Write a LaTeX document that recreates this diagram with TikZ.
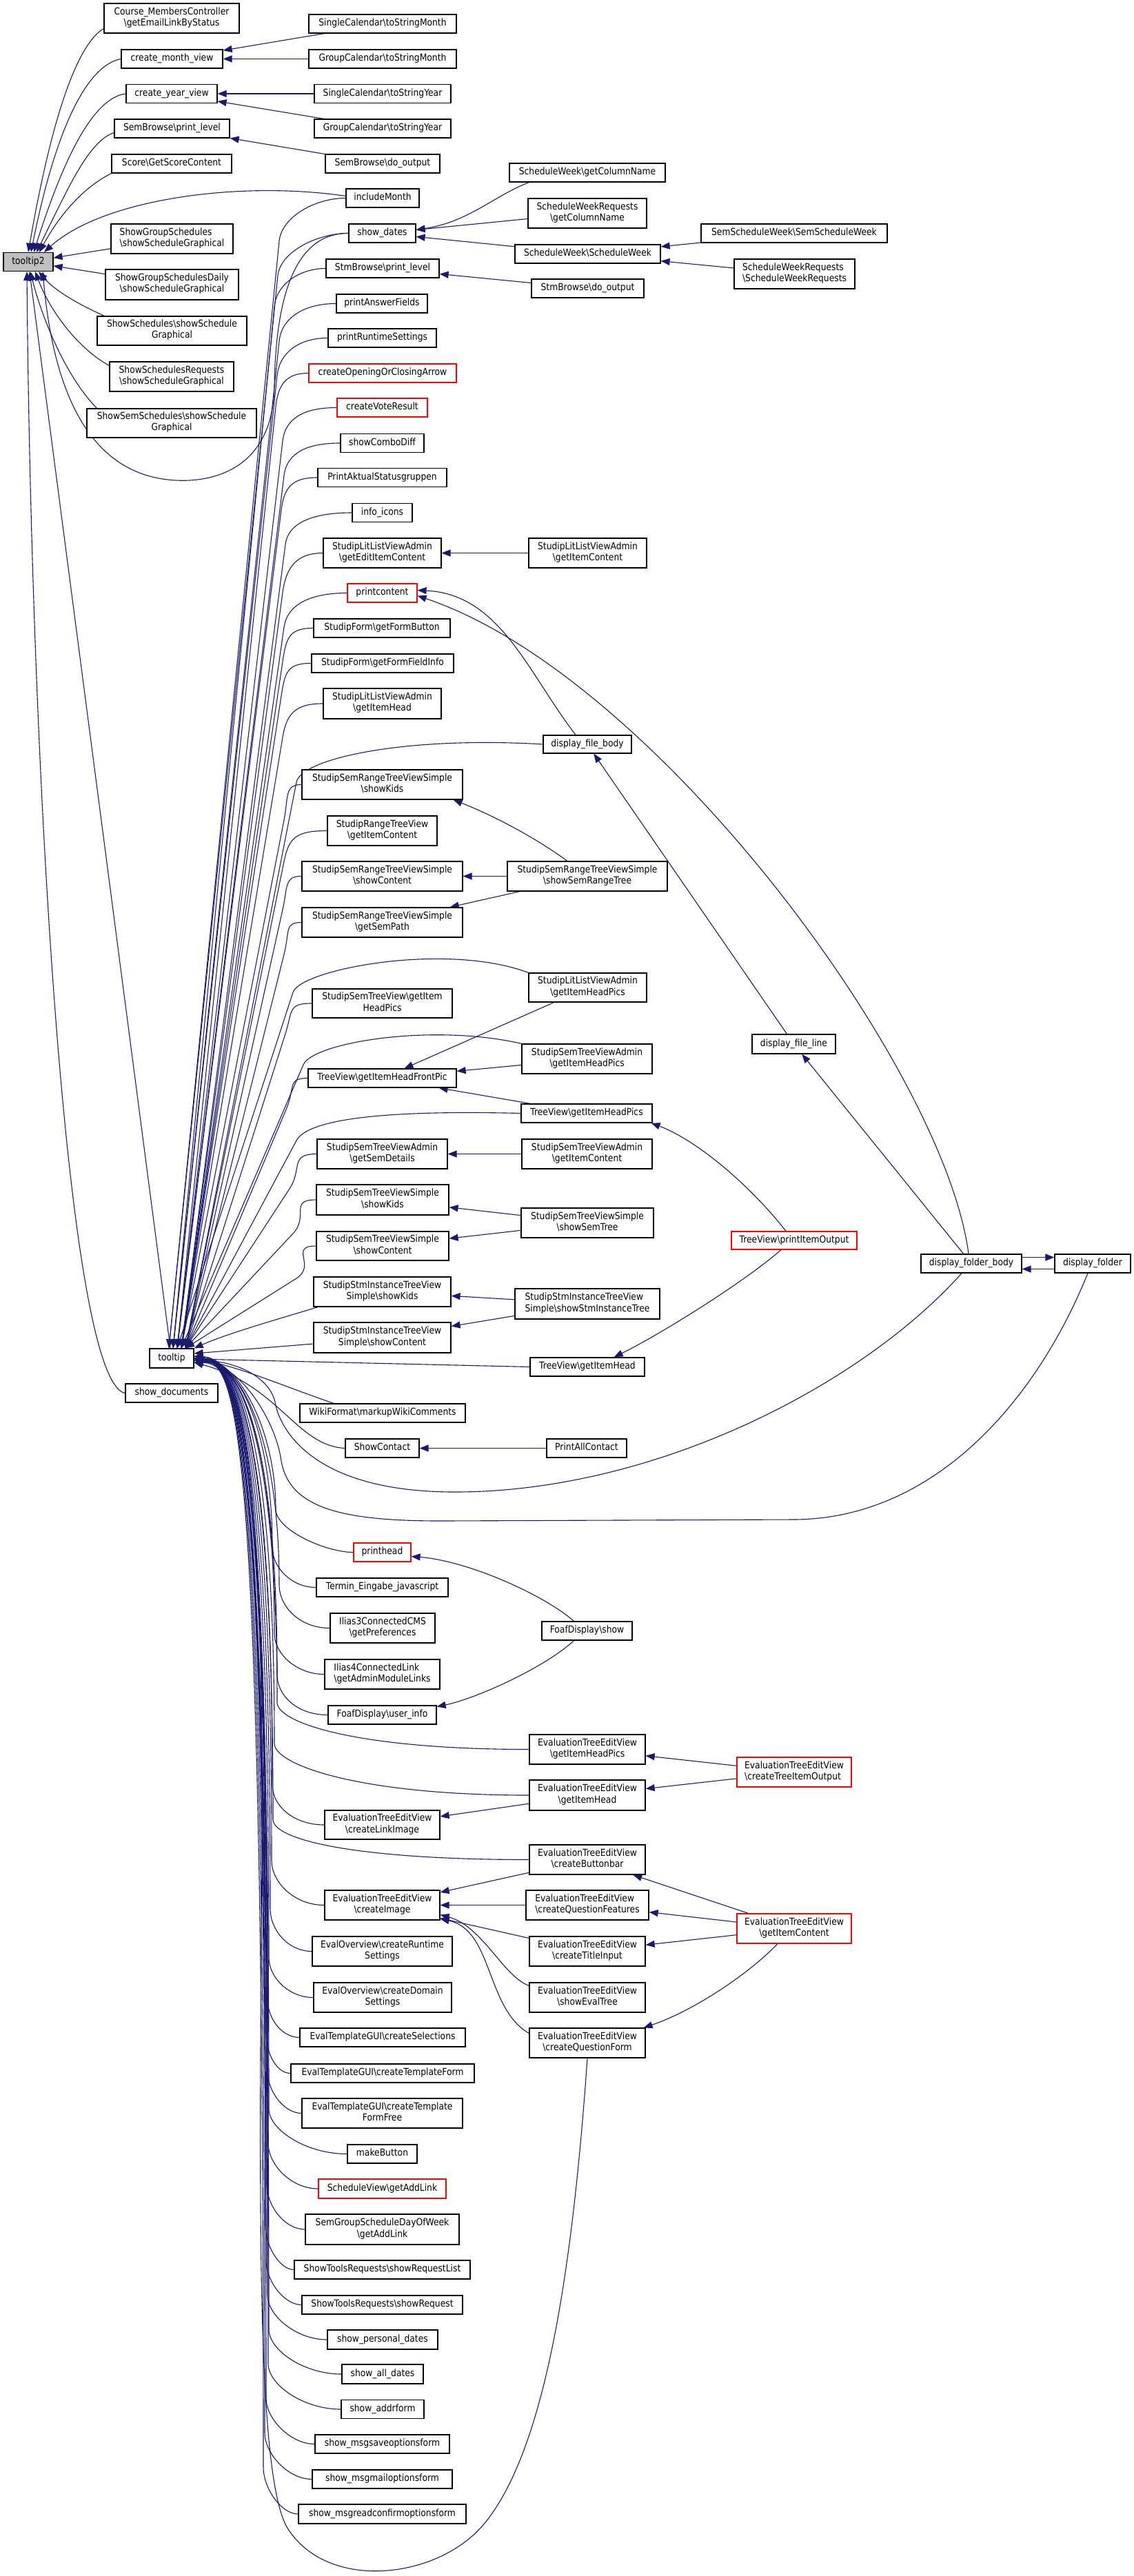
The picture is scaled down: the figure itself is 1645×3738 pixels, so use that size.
\documentclass[tikz,border=0pt]{standalone}
\usepackage{fontspec}
\setmainfont{DejaVu Sans}[FakeStretch=0.88]
\usetikzlibrary{arrows.meta,calc}
\definecolor{edgeblue}{HTML}{191970}
\definecolor{nodegray}{HTML}{BFBFBF}
\definecolor{nodered}{HTML}{FF0000}
\newcommand\bs{\textbackslash}
\newcommand\nf{\fontsize{14}{16.2}\selectfont}
\pgfdeclarelayer{back}
\pgfdeclarelayer{bg}
\pgfsetlayers{back,bg,main}
\tikzset{
  box/.style={draw=black, line width=1.2pt, fill=white, inner sep=0pt, font=\nf,
    align=center, execute at begin node=\strut, execute at end node=\strut},
  redbox/.style={draw=nodered},
  lft/.style={align=left},
  edge/.style={draw=edgeblue, line width=1.1pt, -{Triangle[length=13pt,width=10pt]}}
}
\newcommand\nd[7][]{\node[box,minimum width=#5,minimum height=#6,#1] (#2) at (#3,#4) {#7};}
\newcommand\upE[5]{\draw[edge] (#1) .. controls ($(#1)+(#2)$) and ($(#3,#4)!-35pt!(#5)$) .. (#3,#4) -- (#5);}
\newcommand\dnE[5]{\draw[edge] (#1) .. controls ($(#1)+(#2,0)$) and (#3,{#4+30}) .. (#3,#4) .. controls (#3,2075) and (345,1972) .. (#5);}
\begin{document}
\begin{tikzpicture}[x=1pt,y=-1pt]
\begin{pgfonlayer}{back}
\fill[white] (0,0) rectangle (1645,3738);
\end{pgfonlayer}
\useasboundingbox (0,0) rectangle (1645,3738);
% column 1/2
\nd[fill=nodegray]{tt2}{41}{380}{72}{27}{tooltip2}
\nd{cm}{249}{26.5}{196}{43}{Course\_MembersController\\\bs getEmailLinkByStatus}
\nd{cmv}{249.5}{85.5}{147}{27}{create\_month\_view}
\nd{cyv}{249}{136}{132}{27}{create\_year\_view}
\nd{sbpl}{249.5}{186.5}{167}{27}{SemBrowse\bs print\_level}
\nd{score}{249}{237.5}{174}{27}{Score\bs GetScoreContent}
\nd[lft]{sgs}{249.5}{346.5}{177}{43}{ShowGroupSchedules\\\bs showScheduleGraphical}
\nd{sgsd}{249.5}{413}{193}{44}{ShowGroupSchedulesDaily\\\bs showScheduleGraphical}
\nd{ss}{249.5}{480}{217}{42}{ShowSchedules\bs showSchedule\\Graphical}
\nd{ssr}{249}{546.5}{180}{43}{ShowSchedulesRequests\\\bs showScheduleGraphical}
\nd{sss}{249}{614}{246}{42}{ShowSemSchedules\bs showSchedule\\Graphical}
\nd{tt}{249}{1971}{64}{28}{tooltip}
\nd{sdoc}{249}{2021.5}{134}{27}{show\_documents}
% column 3
\nd{scm}{555}{34.5}{214}{27}{SingleCalendar\bs toStringMonth}
\nd{gcm}{555}{85.5}{214}{27}{GroupCalendar\bs toStringMonth}
\nd{scy}{555}{136}{198}{27}{SingleCalendar\bs toStringYear}
\nd{gcy}{555}{186.5}{198}{27}{GroupCalendar\bs toStringYear}
\nd{sbdo}{555}{237.5}{166}{27}{SemBrowse\bs do\_output}
\nd{im}{555}{287.5}{106}{27}{includeMonth}
\nd{sd}{554.5}{338.5}{97}{27}{show\_dates}
\nd{stpl}{555}{389.5}{164}{27}{StmBrowse\bs print\_level}
\nd{paf}{554}{440.5}{132}{27}{printAnswerFields}
\nd{prs}{554.5}{490.5}{157}{27}{printRuntimeSettings}
\nd[redbox]{coca}{555}{541.5}{214}{27}{createOpeningOrClosingArrow}
\nd[redbox]{cvr}{554.5}{591.5}{131}{27}{createVoteResult}
\nd{scd}{554.5}{643}{121}{27}{showComboDiff}
\nd{pas}{554.5}{693}{187}{27}{PrintAktualStatusgruppen}
\nd{ii}{554.5}{744}{87}{27}{info\_icons}
\nd{lgeic}{554.5}{802.5}{171}{43}{StudipLitListViewAdmin\\\bs getEditItemContent}
\nd[redbox]{pc}{554.5}{860.5}{101}{27}{printcontent}
\nd{fgb}{554}{911.5}{198}{27}{StudipForm\bs getFormButton}
\nd{fgfi}{555}{962.5}{206}{27}{StudipForm\bs getFormFieldInfo}
\nd{lgih}{554.5}{1021}{171}{44}{StudipLitListViewAdmin\\\bs getItemHead}
\nd{srk}{554.5}{1138.5}{233}{43}{StudipSemRangeTreeViewSimple\\\bs showKids}
\nd{rtgic}{554.5}{1205.5}{159}{43}{StudipRangeTreeView\\\bs getItemContent}
\nd{src}{554.5}{1271.5}{233}{43}{StudipSemRangeTreeViewSimple\\\bs showContent}
\nd{srsp}{554.5}{1338.5}{233}{43}{StudipSemRangeTreeViewSimple\\\bs getSemPath}
\nd{stvhp}{554.5}{1456}{203}{42}{StudipSemTreeView\bs getItem\\HeadPics}
\nd{fp}{554.5}{1564.5}{215}{27}{TreeView\bs getItemHeadFrontPic}
\nd{gsd}{554.5}{1674.5}{189}{43}{StudipSemTreeViewAdmin\\\bs getSemDetails}
\nd{stk}{555}{1741}{192}{44}{StudipSemTreeViewSimple\\\bs showKids}
\nd{stc}{555}{1808}{192}{42}{StudipSemTreeViewSimple\\\bs showContent}
\nd{sik}{554.5}{1874.5}{199}{43}{StudipStmInstanceTreeView\\Simple\bs showKids}
\nd{sic}{554.5}{1941}{199}{44}{StudipStmInstanceTreeView\\Simple\bs showContent}
\nd{wf}{555}{2050.5}{240}{27}{WikiFormat\bs markupWikiComments}
\nd{sc}{554.5}{2101.5}{107}{27}{ShowContact}
\nd[redbox]{ph}{554.5}{2252.5}{83}{27}{printhead}
\nd{tej}{554.5}{2303.5}{191}{27}{Termin\_Eingabe\_javascript}
\nd{i3}{555}{2362.5}{152}{43}{Ilias3ConnectedCMS\\\bs getPreferences}
\nd[lft]{i4}{554.5}{2429.5}{167}{43}{Ilias4ConnectedLink\\\bs getAdminModuleLinks}
\nd{ui}{554.5}{2488.5}{157}{27}{FoafDisplay\bs user\_info}
\nd{eli}{554.5}{2648}{167}{42}{EvaluationTreeEditView\\\bs createLinkImage}
\nd{eci}{554.5}{2764.5}{167}{43}{EvaluationTreeEditView\\\bs createImage}
\nd{eocr}{554.5}{2831.5}{203}{43}{EvalOverview\bs createRuntime\\Settings}
\nd{eocd}{555}{2898.5}{200}{43}{EvalOverview\bs createDomain\\Settings}
\nd{etcs}{555}{2956.5}{240}{27}{EvalTemplateGUI\bs createSelections}
\nd{etctf}{555}{3008.5}{266}{27}{EvalTemplateGUI\bs createTemplateForm}
\nd{etctff}{554.5}{3066.5}{233}{43}{EvalTemplateGUI\bs createTemplate\\FormFree}
\nd{mb}{554.5}{3125.5}{101}{27}{makeButton}
\nd[redbox]{svgal}{554.5}{3176}{185}{28}{ScheduleView\bs getAddLink}
\nd{sgsdow}{554.5}{3235}{223}{44}{SemGroupScheduleDayOfWeek\\\bs getAddLink}
\nd{strl}{554.5}{3293.5}{255}{27}{ShowToolsRequests\bs showRequestList}
\nd{str}{554.5}{3344.5}{233}{27}{ShowToolsRequests\bs showRequest}
\nd{spd}{555}{3395}{160}{28}{show\_personal\_dates}
\nd{sad}{555}{3445}{118}{28}{show\_all\_dates}
\nd{saf}{555}{3496}{120}{27}{show\_addrform}
\nd{smso}{554.5}{3546.5}{195}{27}{show\_msgsaveoptionsform}
\nd{smmo}{554.5}{3597.5}{203}{27}{show\_msgmailoptionsform}
\nd{smrc}{554.5}{3648}{243}{28}{show\_msgreadconfirmoptionsform}
% column 4
\nd{swgc}{852}{250.5}{226}{27}{ScheduleWeek\bs getColumnName}
\nd{swrgc}{852}{309.5}{172}{43}{ScheduleWeekRequests\\\bs getColumnName}
\nd{swsw}{852.5}{368.5}{211}{27}{ScheduleWeek\bs ScheduleWeek}
\nd{stdo}{852.5}{418.5}{163}{27}{StmBrowse\bs do\_output}
\nd{lgic}{852.5}{802.5}{171}{43}{StudipLitListViewAdmin\\\bs getItemContent}
\nd{dfb}{852}{1080}{128}{26}{display\_file\_body}
\nd{ssrt}{852}{1271.5}{232}{43}{StudipSemRangeTreeViewSimple\\\bs showSemRangeTree}
\nd{lgihp}{852.5}{1433}{171}{42}{StudipLitListViewAdmin\\\bs getItemHeadPics}
\nd{sagihp}{851.5}{1536.5}{189}{43}{StudipSemTreeViewAdmin\\\bs getItemHeadPics}
\nd{tvhp}{851}{1615.5}{190}{27}{TreeView\bs getItemHeadPics}
\nd{sagic}{851.5}{1674.5}{189}{43}{StudipSemTreeViewAdmin\\\bs getItemContent}
\nd{sst}{852}{1774.5}{192}{43}{StudipSemTreeViewSimple\\\bs showSemTree}
\nd[lft]{ssit}{852}{1892}{210}{44}{StudipStmInstanceTreeView\\Simple\bs showStmInstanceTree}
\nd{tvgih}{852}{1983.5}{166}{27}{TreeView\bs getItemHead}
\nd{pac}{851}{2101.5}{116}{27}{PrintAllContact}
\nd{fds}{851.5}{2366.5}{131}{27}{FoafDisplay\bs show}
\nd{egihp}{852}{2538.5}{168}{43}{EvaluationTreeEditView\\\bs getItemHeadPics}
\nd{egih}{852}{2605}{168}{44}{EvaluationTreeEditView\\\bs getItemHead}
\nd{ecbb}{852}{2698.5}{168}{43}{EvaluationTreeEditView\\\bs createButtonbar}
\nd[lft]{ecqf}{852}{2764.5}{178}{43}{EvaluationTreeEditView\\\bs createQuestionFeatures}
\nd{ecti}{852}{2831.5}{168}{43}{EvaluationTreeEditView\\\bs createTitleInput}
\nd{eset}{852}{2898.5}{168}{43}{EvaluationTreeEditView\\\bs showEvalTree}
\nd{ecqfo}{852}{2964.5}{168}{43}{EvaluationTreeEditView\\\bs createQuestionForm}
% column 5/6
\nd{ssw}{1152}{338.5}{270}{27}{SemScheduleWeek\bs SemScheduleWeek}
\nd[lft]{swrswr}{1152.5}{397.5}{175}{43}{ScheduleWeekRequests\\\bs ScheduleWeekRequests}
\nd{dfl}{1151.5}{1515}{121}{28}{display\_file\_line}
\nd[redbox]{pio}{1152}{1800}{182}{26}{TreeView\bs printItemOutput}
\nd[redbox,lft]{ecto}{1152}{2571.5}{166}{43}{EvaluationTreeEditView\\\bs createTreeItemOutput}
\nd[redbox]{egic}{1152}{2798.5}{166}{43}{EvaluationTreeEditView\\\bs getItemContent}
\nd{dfob}{1409}{1833.5}{146}{27}{display\_folder\_body}
\nd{df}{1585}{1833.5}{110}{27}{display\_folder}
% end points
\coordinate (tn0) at ($(tt.north)+(-4,0)$);
\coordinate (tn1) at ($(tt.north)+(2,0)$);
\coordinate (tn2) at ($(tt.north)+(8,0)$);
\coordinate (tn3) at ($(tt.north)+(14,0)$);
\coordinate (tn4) at ($(tt.north)+(20,0)$);
\coordinate (te0) at ($(tt.east)+(0,-6)$);
\coordinate (te1) at ($(tt.east)+(0,-3)$);
\coordinate (te2) at ($(tt.east)+(0,0)$);
\coordinate (te3) at ($(tt.east)+(0,3)$);
\coordinate (te4) at ($(tt.east)+(0,6)$);
\coordinate (t2n0) at ($(tt2.north)+(0,0)$);
\coordinate (t2n1) at ($(tt2.north)+(4,0)$);
\coordinate (t2n2) at ($(tt2.north)+(8,0)$);
\coordinate (t2n3) at ($(tt2.north)+(12,0)$);
\coordinate (t2n4) at ($(tt2.north)+(16,0)$);
\coordinate (t2n5) at ($(tt2.north)+(23,0)$);
\coordinate (t2s0) at ($(tt2.south)+(-2,0)$);
\coordinate (t2s1) at ($(tt2.south)+(3,0)$);
\coordinate (t2s3) at ($(tt2.south)+(10,0)$);
\coordinate (t2s4) at ($(tt2.south)+(15,0)$);
\coordinate (t2s5) at ($(tt2.south)+(21,0)$);
\begin{pgfonlayer}{bg}
% into tooltip2
\draw[edge] ($(cm.south west)+(0,-7)$) .. controls (112,64) and (75,170) .. (t2n0);
\draw[edge] (cmv.west) .. controls (125,95) and (80,190) .. (t2n1);
\draw[edge] (cyv.west) .. controls (135,142) and (92,230) .. (t2n2);
\draw[edge] ($(sbpl.west)+(0,6)$) .. controls (128,205) and (98,275) .. (t2n3);
\draw[edge] (score.south west) .. controls (115,275) and (82,320) .. (t2n4);
\draw[edge] ($(im.west)+(0,-3)$) .. controls (350,262) and (150,288) .. (t2n5);
\draw[edge] (sgs) -- (tt2);
\draw[edge] (sgsd) -- (tt2);
\draw[edge] ($(ss.north west)+(11,0)$) .. controls (110,440) and (78,420) .. (t2s4);
\draw[edge] ($(ssr.west)+(0,-16)$) .. controls (112,505) and (72,450) .. (t2s3);
\draw[edge] ($(sss.north west)+(15,0)$) .. controls (90,540) and (58,450) .. (t2s1);
\draw[edge] (sd.west) .. controls (428,338) and (400,430) .. (398,560) .. controls (396,680) and (310,700) .. (255,697) .. controls (160,692) and (82,620) .. (t2s5);
\draw[edge] (tt) -- (tt2);
\draw[edge] (sdoc.west) .. controls (95,2005) and (45,1100) .. (t2s0);
% small fans
\draw[edge] (scm) -- (cmv);
\draw[edge] (gcm) -- (cmv);
\draw[edge] (scy) -- (cyv);
\draw[edge] (gcy) -- (cyv);
\draw[edge] (sbdo) -- (sbpl);
\draw[edge] ($(swgc.south west)+(29,0)$) .. controls (715,285) and (680,322) .. ($(sd.east)+(0,-5)$);
\draw[edge] ($(swrgc.west)+(0,8)$) -- ($(sd.east)+(0,-5)$);
\draw[edge] (swsw) -- (sd);
\draw[edge] (ssw) -- (swsw);
\draw[edge] (swrswr) -- (swsw);
\draw[edge] (stdo) -- (stpl);
\draw[edge] (lgic) -- (lgeic);
\draw[edge] ($(dfb.north)+(-17,0)$) .. controls (765,975) and (725,862) .. ($(pc.east)+(0,-4)$);
\draw[edge] ($(dfob.north)+(-4,0)$) .. controls (1370,1550) and (950,980) .. ($(pc.east)+(0,4)$);
\draw[edge] (dfl) -- (dfb);
\draw[edge] (dfob) -- (dfl);
\draw[edge] ($(dfob.east)+(0,-9)$) -- ($(df.west)+(0,-9)$);
\draw[edge] ($(df.west)+(0,8)$) -- ($(dfob.east)+(0,8)$);
\draw[edge] ($(ssrt.north)+(-29,0)$) .. controls (780,1218) and (720,1185) .. ($(srk.south east)+(-14,0)$);
\draw[edge] (ssrt) -- (src);
\draw[edge] (ssrt) -- (srsp);
\draw[edge] (lgihp) -- (fp);
\draw[edge] (sagihp) -- (fp);
\draw[edge] (tvhp) -- (fp);
\draw[edge] (sagic) -- (gsd);
\draw[edge] (sst) -- (stk);
\draw[edge] (sst) -- (stc);
\draw[edge] (ssit) -- (sik);
\draw[edge] (ssit) -- (sic);
\draw[edge] ($(pio.north)+(-12,0)$) .. controls (1090,1722) and (1012,1655) .. ($(tvhp.south east)+(-2,0)$);
\draw[edge] ($(pio.south)+(-19,0)$) .. controls (1080,1860) and (960,1935) .. ($(tvgih.north east)+(-45,0)$);
\draw[edge] (pac) -- (sc);
\draw[edge] ($(fds.north)+(-19,0)$) .. controls (790,2315) and (680,2265) .. ($(ph.east)+(0,6)$);
\draw[edge] ($(fds.south)+(-19,0)$) .. controls (790,2420) and (690,2465) .. ($(ui.east)+(0,-12)$);
\draw[edge] (ecto) -- (egihp);
\draw[edge] (ecto) -- (egih);
\draw[edge] (egih) -- (eli);
\draw[edge] (ecbb) -- (eci);
\draw[edge] (ecqf) -- (eci);
\draw[edge] (ecti) -- (eci);
\draw[edge] ($(eset.north west)+(0,5)$) .. controls (730,2868) and (700,2795) .. ($(eci.east)+(0,14)$);
\draw[edge] ($(ecqfo.north west)+(0,8)$) .. controls (705,2915) and (715,2800) .. ($(eci.east)+(0,20)$);
\draw[edge] (egic) -- (ecbb);
\draw[edge] (egic) -- (ecqf);
\draw[edge] (egic) -- (ecti);
\draw[edge] ($(egic.south)+(-24,0)$) .. controls (1080,2870) and (1000,2920) .. ($(ecqfo.north east)+(-3,0)$);
% into tooltip from above
\upE{im.west}{-45,0}{405}{350}{tn0}
\upE{sd.west}{-45,0}{403}{400}{tn0}
\upE{stpl.west}{-35,0}{398}{445}{tn1}
\upE{paf.west}{-45,0}{405}{495}{tn1}
\upE{prs.west}{-40,0}{402}{545}{tn1}
\upE{coca.west}{-30,0}{400}{590}{tn2}
\upE{cvr.west}{-45,0}{410}{640}{tn2}
\upE{scd.west}{-45,0}{412}{690}{tn2}
\upE{pas.west}{-35,0}{408}{740}{tn2}
\upE{ii.west}{-50,0}{414}{790}{tn3}
\upE{lgeic.west}{-40,0}{410}{860}{tn3}
\upE{pc.west}{-50,0}{412}{910}{tn3}
\upE{fgb.west}{-35,0}{410}{960}{tn3}
\upE{fgfi.west}{-35,0}{408}{1010}{tn3}
\upE{lgih.west}{-40,0}{410}{1070}{tn3}
\upE{dfb.west}{-200,-12}{430}{1135}{tn4}
\upE{srk.west}{-25,0}{412}{1190}{tn3}
\upE{rtgic.west}{-45,0}{412}{1250}{tn4}
\upE{src.west}{-25,0}{410}{1320}{tn4}
\upE{srsp.west}{-25,0}{412}{1385}{tn4}
\upE{lgihp.north west}{-120,-45}{425}{1440}{tn2}
\upE{stvhp.west}{-35,0}{414}{1500}{tn4}
\upE{sagihp.north west}{-130,-30}{440}{1545}{tn3}
\upE{fp.west}{-30,0}{415}{1610}{tn4}
\upE{tvhp.west}{-200,-5}{430}{1655}{tn4}
\upE{gsd.west}{-40,0}{420}{1725}{tn4}
\upE{stk.west}{-40,0}{425}{1790}{tn4}
\upE{stc.west}{-40,0}{430}{1855}{tn4}
\draw[edge] ($(sik.south west)+(7,0)$) .. controls (410,1912) and (330,1935) .. (tt.north east);
\draw[edge] ($(sic.west)+(0,9)$) -- ($(tt.east)+(0,-7)$);
\draw[edge] (tvgih.west) -- ($(tt.east)+(0,1)$);
% into tooltip from below
\draw[edge] ($(wf.north west)+(50,0)$) .. controls (420,2015) and (335,1978) .. (te3);
\draw[edge] (sc.west) .. controls (430,2098) and (405,2010) .. (te4);
\draw[edge] ($(dfob.south)+(-14,0)$) .. controls (1250,2010) and (950,2165) .. (660,2165) .. controls (460,2165) and (410,2080) .. (400,2040) .. controls (395,2000) and (345,1975) .. (te3);
\draw[edge] ($(df.south)+(-7,0)$) .. controls (1500,2040) and (1350,2205) .. (1150,2205) -- (640,2207) .. controls (500,2207) and (420,2190) .. (408,2120) .. controls (400,2060) and (345,1975) .. (te4);
\dnE{ph.west}{-40}{400}{2190}{te2}
\dnE{tej.west}{-35}{395}{2245}{te2}
\dnE{i3.west}{-45}{405}{2300}{te3}
\dnE{i4.west}{-40}{398}{2370}{te2}
\dnE{ui.west}{-45}{402}{2430}{te3}
\dnE{egihp.west}{-250}{402}{2470}{te1}
\dnE{egih.west}{-250}{398}{2530}{te1}
\dnE{eli.west}{-45}{395}{2590}{te2}
\dnE{ecbb.west}{-250}{396}{2640}{te1}
\dnE{eci.west}{-45}{394}{2700}{te2}
\dnE{eocr.west}{-35}{392}{2770}{te3}
\dnE{eocd.west}{-35}{390}{2840}{te2}
\dnE{etcs.west}{-25}{388}{2900}{te3}
\dnE{etctf.west}{-20}{386}{2950}{te2}
\dnE{etctff.west}{-25}{388}{3005}{te3}
\dnE{mb.west}{-60}{390}{3060}{te2}
\dnE{svgal.west}{-40}{389}{3110}{te3}
\dnE{sgsdow.west}{-30}{387}{3170}{te2}
\dnE{strl.west}{-20}{385}{3230}{te3}
\dnE{str.west}{-25}{386}{3280}{te2}
\dnE{spd.west}{-45}{388}{3330}{te3}
\dnE{sad.west}{-55}{390}{3380}{te2}
\dnE{saf.west}{-55}{389}{3430}{te3}
\dnE{smso.west}{-35}{386}{3480}{te2}
\dnE{smmo.west}{-35}{384}{3530}{te3}
\dnE{smrc.west}{-25}{382}{3580}{te4}
\draw[edge] (ecqfo.south) .. controls (830,3300) and (790,3560) .. (700,3665) .. controls (630,3745) and (470,3760) .. (415,3665) .. controls (372,3580) and (376,3200) .. (380,2700) .. controls (383,2100) and (350,1978) .. (te4);
\end{pgfonlayer}
\end{tikzpicture}
\end{document}
